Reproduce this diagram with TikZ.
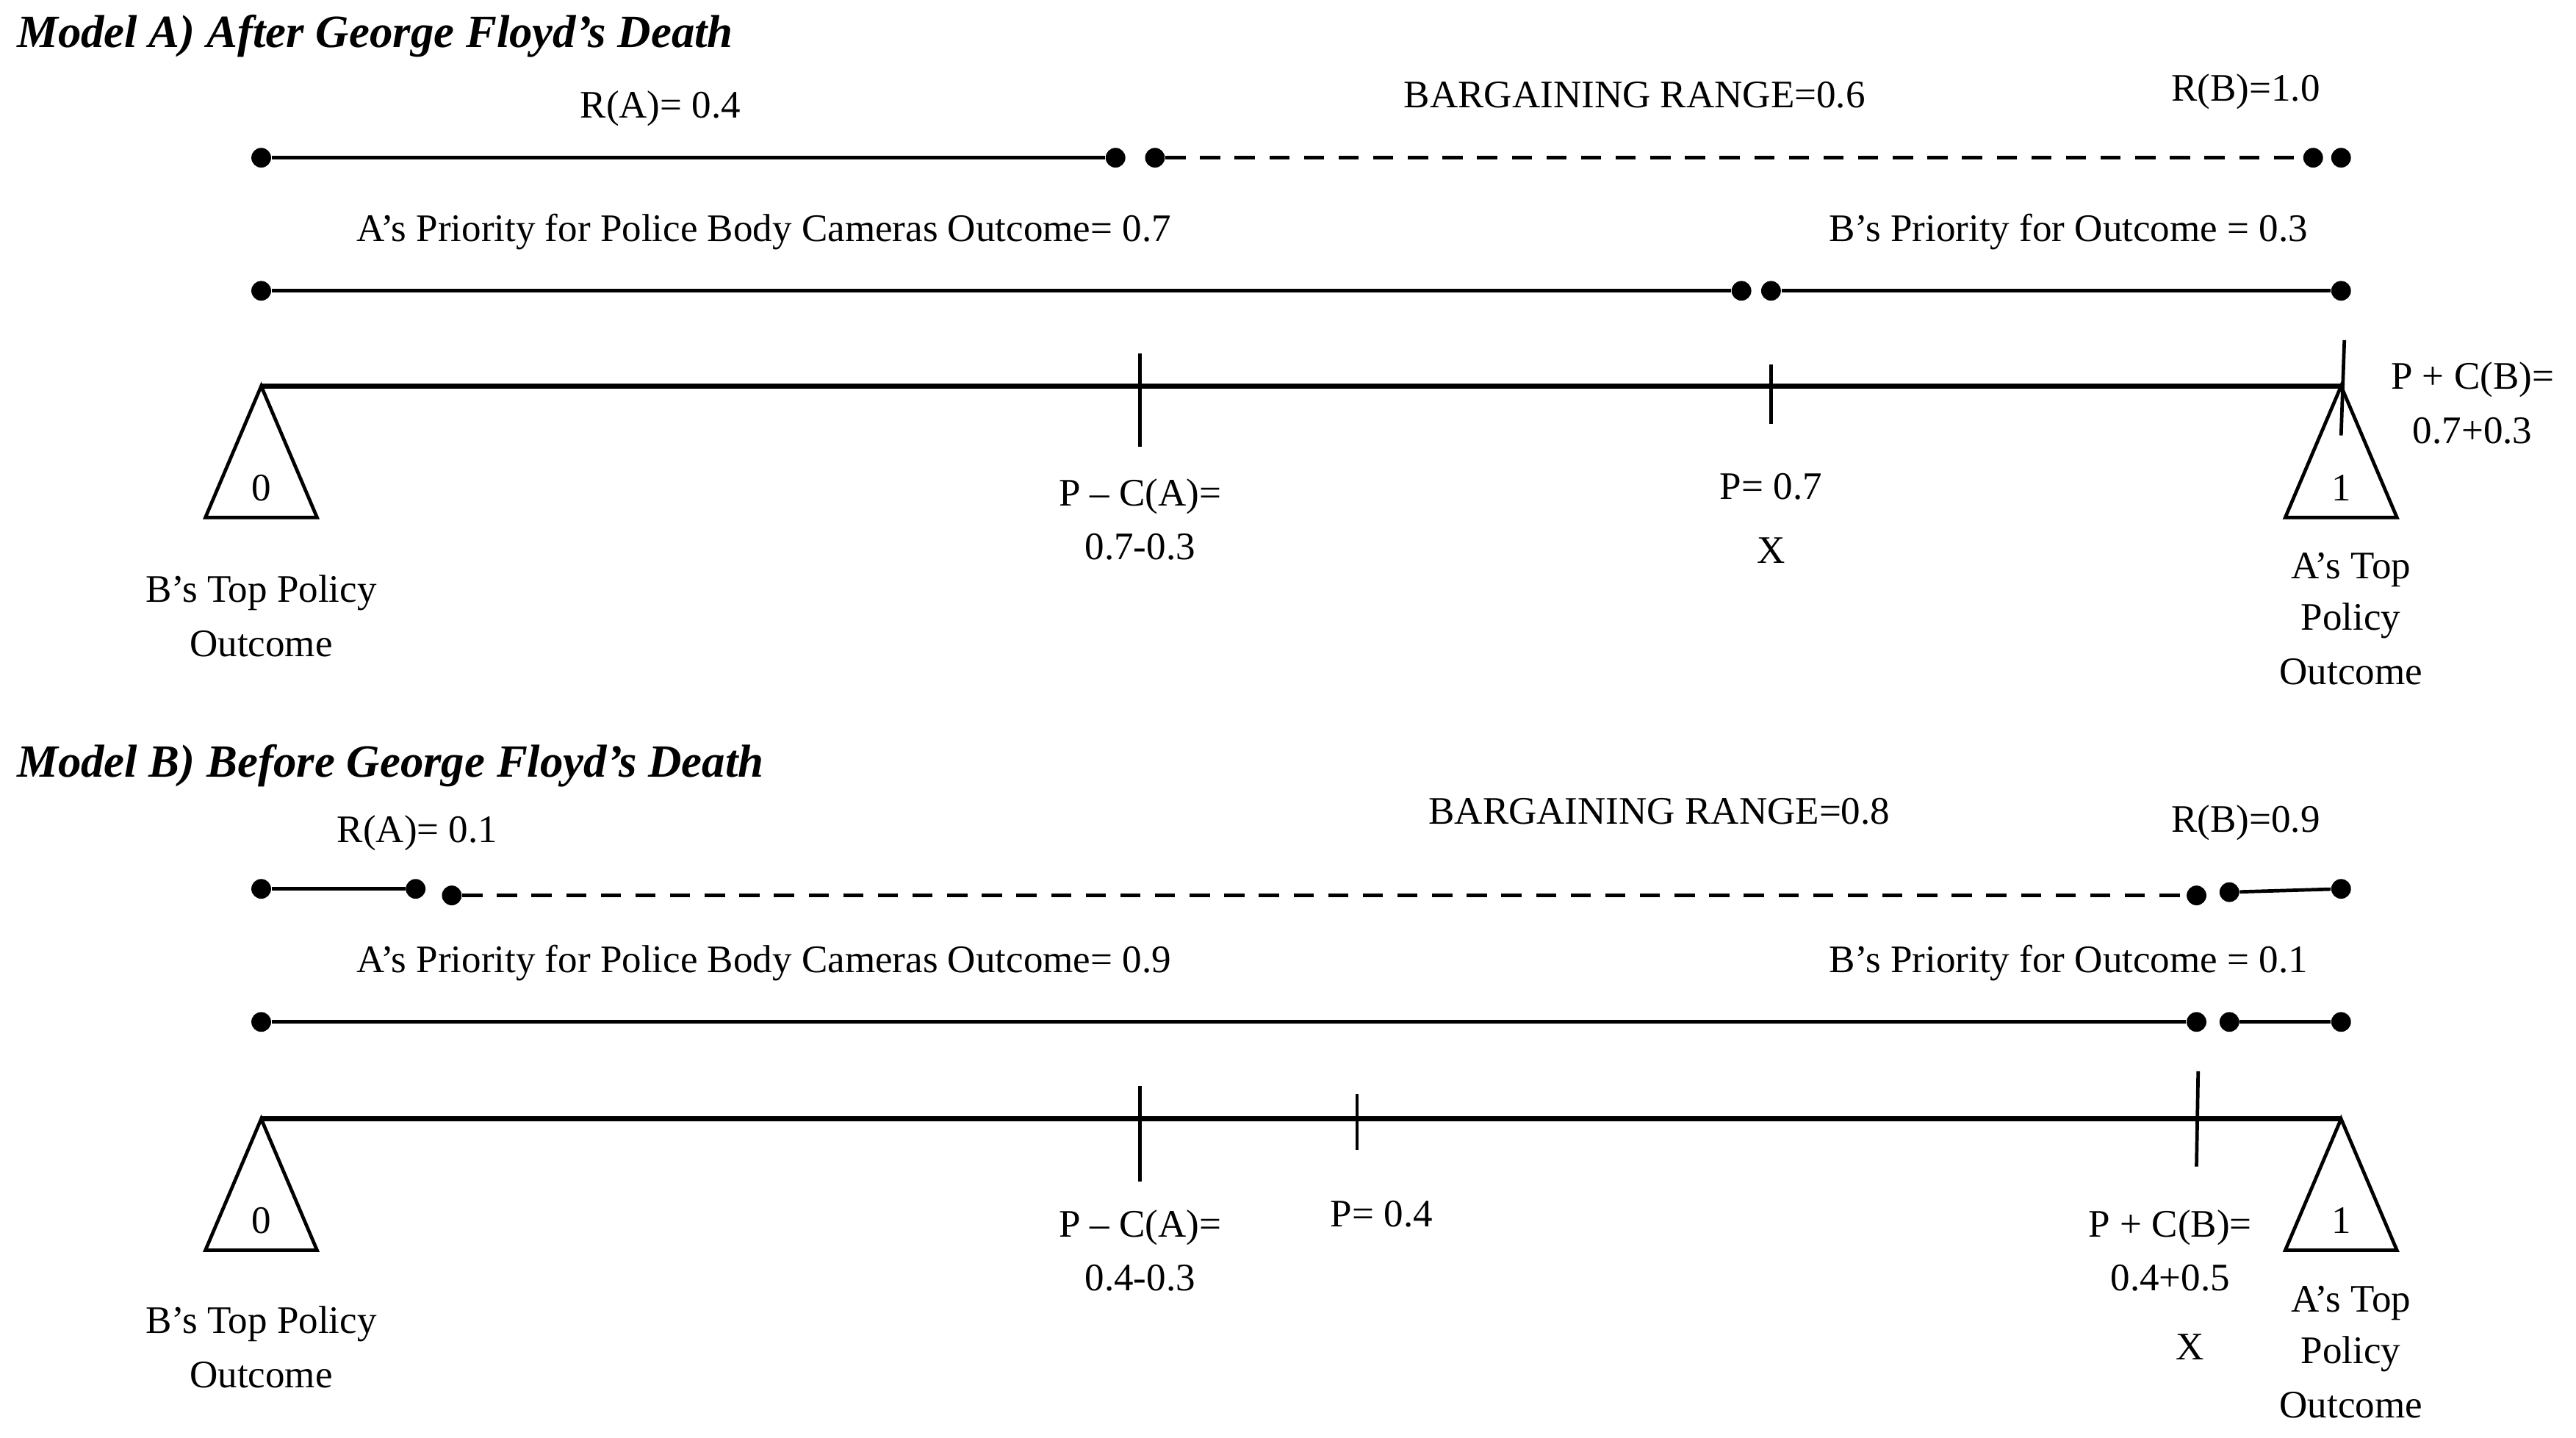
\documentclass[tikz,border=0pt]{standalone}
\usepackage{fontspec}
\setmainfont{Liberation Serif}
\begin{document}
\begin{tikzpicture}[x=0.02cm,y=-0.02cm,
  dot/.style={circle,fill=black,inner sep=0pt,minimum size=0.24cm},
  lbl/.style={font=\fontsize{13.5}{15}\selectfont,inner sep=0pt},
  ttl/.style={font=\fontsize{16}{18}\selectfont\bfseries\itshape,anchor=west,inner sep=0pt},
  seg/.style={line width=1.2pt},
  dsh/.style={line width=1.2pt,dash pattern=on 7pt off 5pt},
  axis/.style={line width=1.8pt},
  tick/.style={line width=1.2pt},
  tri/.style={line width=1.2pt}]
\useasboundingbox (0,0) rectangle (1568,875);
% ===== Model A =====
\node[ttl] (tA) at (10,22) {Model A) After George Floyd’s Death};
\node[dot] (a1) at (159,96) {}; \node[dot] (a2) at (679,96) {};
\node[dot] (a3) at (703,96) {}; \node[dot] (a4) at (1408,96) {};
\node[dot] (a5) at (1425,96) {};
\draw[seg] (a1) -- (a2); \draw[dsh] (a3) -- (a4);
\node[lbl] (la1) at (402,66) {R(A)= 0.4};
\node[lbl] (la2) at (995,58) {BARGAINING RANGE=0.6};
\node[lbl] (la3) at (1367,56) {R(B)=1.0};
\node[dot] (b1) at (159,177) {}; \node[dot] (b2) at (1060,177) {};
\node[dot] (b3) at (1078,177) {}; \node[dot] (b4) at (1425,177) {};
\draw[seg] (b1) -- (b2); \draw[seg] (b3) -- (b4);
\node[lbl] (lb1) at (465,141) {A’s Priority for Police Body Cameras Outcome= 0.7};
\node[lbl] (lb2) at (1259,141) {B’s Priority for Outcome = 0.3};
\coordinate (m1) at (159,235); \coordinate (m2) at (1425,235);
\draw[axis] (m1) -- (m2);
\draw[tri] (m1) -- (125,315) -- (193,315) -- cycle;
\draw[tri] (m2) -- (1391,315) -- (1459,315) -- cycle;
\node[lbl] (z0) at (159,297) {0}; \node[lbl] (z1) at (1425,297) {1};
\coordinate (t1a) at (694,215); \coordinate (t1b) at (694,272); \draw[tick] (t1a) -- (t1b);
\coordinate (t2a) at (1078,222); \coordinate (t2b) at (1078,258); \draw[tick] (t2a) -- (t2b);
\coordinate (t3a) at (1427,207); \coordinate (t3b) at (1425,265); \draw[tick] (t3a) -- (t3b);
\node[lbl] (c1) at (694,302) {P – C(A)=}; \node[lbl] (c2) at (694,333) {0.7-0.3};
\node[lbl] (c3) at (1078,296) {P= 0.7}; \node[lbl] (c4) at (1078,335) {X};
\node[lbl] (c5) at (1505,231) {P + C(B)=}; \node[lbl] (c6) at (1505,262) {0.7+0.3};
\node[lbl] (c7) at (159,361) {B’s Top Policy}; \node[lbl] (c8) at (159,392) {Outcome};
\node[lbl] (c9) at (1431,347) {A’s Top}; \node[lbl] (c10) at (1431,378) {Policy};
\node[lbl] (c11) at (1431,409) {Outcome};
% ===== Model B =====
\node[ttl] (tB) at (10,466) {Model B) Before George Floyd’s Death};
\node[dot] (d1) at (159,541) {}; \node[dot] (d2) at (253,541) {};
\node[dot] (d3) at (275,545) {}; \node[dot] (d4) at (1337,545) {};
\node[dot] (d5) at (1357,543) {}; \node[dot] (d6) at (1425,541) {};
\draw[seg] (d1) -- (d2); \draw[dsh] (d3) -- (d4); \draw[seg] (d5) -- (d6);
\node[lbl] (ld1) at (254,507) {R(A)= 0.1};
\node[lbl] (ld2) at (1010,494) {BARGAINING RANGE=0.8};
\node[lbl] (ld3) at (1367,501) {R(B)=0.9};
\node[dot] (e1) at (159,622) {}; \node[dot] (e2) at (1337,622) {};
\node[dot] (e3) at (1357,622) {}; \node[dot] (e4) at (1425,622) {};
\draw[seg] (e1) -- (e2); \draw[seg] (e3) -- (e4);
\node[lbl] (le1) at (465,586) {A’s Priority for Police Body Cameras Outcome= 0.9};
\node[lbl] (le2) at (1259,586) {B’s Priority for Outcome = 0.1};
\coordinate (n1) at (159,681); \coordinate (n2) at (1425,681);
\draw[axis] (n1) -- (n2);
\draw[tri] (n1) -- (125,761) -- (193,761) -- cycle;
\draw[tri] (n2) -- (1391,761) -- (1459,761) -- cycle;
\node[lbl] (y0) at (159,743) {0}; \node[lbl] (y1) at (1425,743) {1};
\coordinate (s1a) at (694,661); \coordinate (s1b) at (694,719); \draw[tick] (s1a) -- (s1b);
\coordinate (s2a) at (826,666); \coordinate (s2b) at (826,700); \draw[tick] (s2a) -- (s2b);
\coordinate (s3a) at (1338,652); \coordinate (s3b) at (1337,710); \draw[tick] (s3a) -- (s3b);
\node[lbl] (f1) at (694,747) {P – C(A)=}; \node[lbl] (f2) at (694,778) {0.4-0.3};
\node[lbl] (f3) at (841,739) {P= 0.4};
\node[lbl] (f4) at (1321,747) {P + C(B)=}; \node[lbl] (f5) at (1321,778) {0.4+0.5};
\node[lbl] (f6) at (1333,820) {X};
\node[lbl] (f7) at (159,806) {B’s Top Policy}; \node[lbl] (f8) at (159,837) {Outcome};
\node[lbl] (f9) at (1431,793) {A’s Top}; \node[lbl] (f10) at (1431,824) {Policy};
\node[lbl] (f11) at (1431,855) {Outcome};
\end{tikzpicture}
\end{document}
